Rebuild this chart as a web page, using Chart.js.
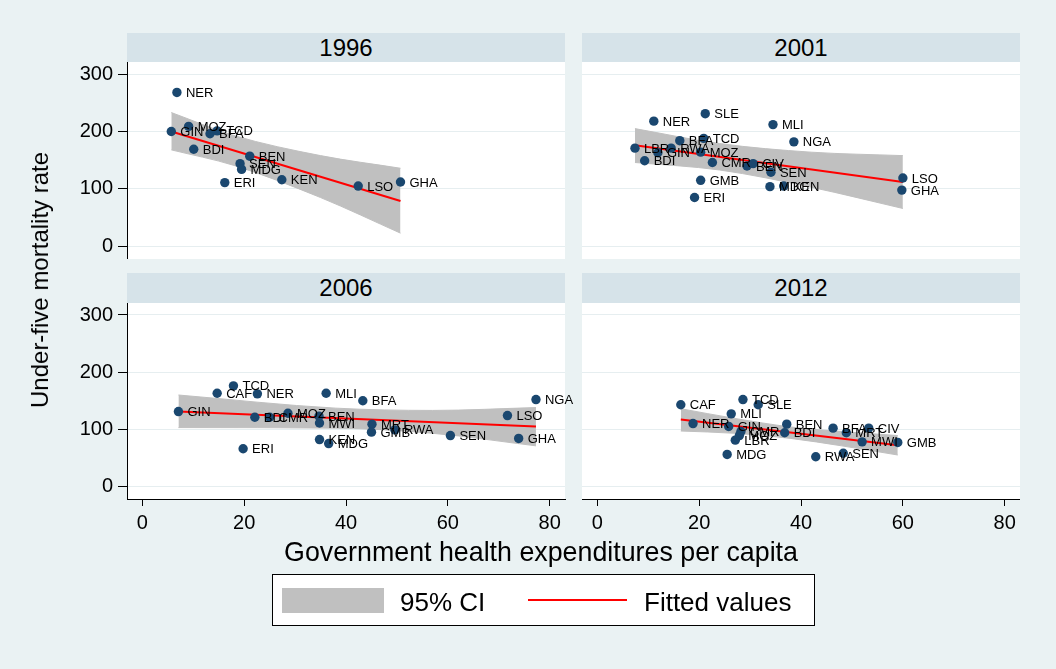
<!DOCTYPE html>
<html>
<head>
<meta charset="utf-8">
<script src="https://cdn.jsdelivr.net/npm/chart.js@4"></script>
<style>
  body { margin: 0; background: #eaf2f3; }
  #wrap { position: relative; width: 1056px; height: 669px; background: #eaf2f3; overflow: hidden;
          font-family: "Liberation Sans", Arial, sans-serif; color: #000; }
  canvas { position: absolute; }
  .strip { position: absolute; background: #d6e3e9; text-align: center; font-size: 24px; }
  .txt { position: absolute; white-space: nowrap; }
</style>
</head>
<body>
<div id="wrap">
  <div class="strip" style="left:127px;top:33px;width:438px;height:29px;line-height:29px">1996</div>
  <div class="strip" style="left:582px;top:33px;width:438px;height:29px;line-height:29px">2001</div>
  <div class="strip" style="left:127px;top:273px;width:438px;height:30px;line-height:30px">2006</div>
  <div class="strip" style="left:582px;top:273px;width:438px;height:30px;line-height:30px">2012</div>

  <canvas id="p1996" width="580" height="197" style="left:0;top:62px"></canvas>
  <canvas id="p2001" width="438" height="197" style="left:582px;top:62px"></canvas>
  <canvas id="p2006" width="580" height="236" style="left:0;top:303px"></canvas>
  <canvas id="p2012" width="438" height="236" style="left:582px;top:303px"></canvas>

  <div class="txt" style="left:40px;top:280px;font-size:24px;line-height:24px;transform:translate(-50%,-50%) rotate(-90deg)">Under-five mortality rate</div>
  <div class="txt" style="left:541px;top:538px;font-size:28px;line-height:28px;transform:translateX(-50%) scaleX(0.957)">Government health expenditures per capita</div>

  <div style="position:absolute;left:272px;top:574px;width:541px;height:50px;background:#fff;border:1px solid #000"></div>
  <div style="position:absolute;left:282px;top:588px;width:102px;height:25px;background:#c0c0c0"></div>
  <div class="txt" style="left:400px;top:589px;font-size:26px;line-height:26px">95% CI</div>
  <div style="position:absolute;left:528px;top:599px;width:99px;height:2px;background:#ff0000"></div>
  <div class="txt" style="left:644px;top:589px;font-size:26px;line-height:26px">Fitted values</div>
</div>

<script>
// axis ticks
const yTicks = [0, 100, 200, 300];
const xTicks = [0, 20, 40, 60, 80];

// 1996
const iso1996 = ['NER','MOZ','GIN','BFA','TCD','BDI','BEN','SEN','MDG','ERI','KEN','LSO','GHA'];
const exp1996 = [6.8, 9.1, 5.7, 13.3, 14.7, 10.1, 21.1, 19.2, 19.5, 16.2, 27.4, 42.4, 50.7];
const u5m1996 = [268, 209, 200, 196, 201, 169, 157, 144, 134, 111, 116, 105, 112];
const fitX1996 = [5.7, 50.7];
const fitY1996 = [200, 79];
const ciX1996  = [5.7, 18, 35, 50.7];
const ciHi1996 = [233, 193, 158, 136];
const ciLo1996 = [168, 141, 85, 23];

// 2001
const iso2001 = ['NER','SLE','MLI','NGA','BFA','TCD','LBR','GIN','RWA','MOZ','BDI','CMR','BEN','CIV','SEN','MDG','KEN','GMB','ERI','LSO','GHA'];
const exp2001 = [11.1, 21.2, 34.5, 38.6, 16.2, 20.9, 7.4, 11.9, 14.5, 20.3, 9.3, 22.6, 29.4, 30.6, 34.1, 33.9, 36.6, 20.3, 19.1, 60.0, 59.8];
const u5m2001 = [218, 231, 212, 182, 184, 188, 171, 163, 171, 164, 149, 146, 140, 144, 129, 104, 105, 115, 85, 119, 98];
const fitX2001 = [7.4, 60.0];
const fitY2001 = [176, 112];
const ciX2001  = [7.4, 24, 42, 60.0];
const ciHi2001 = [205, 179, 164, 158];
const ciLo2001 = [146, 133, 103, 66];

// 2006
const iso2006 = ['TCD','CAF','NER','MLI','BFA','GIN','MOZ','BDI','CMR','BEN','MWI','MRT','GMB','RWA','KEN','MDG','ERI','NGA','LSO','SEN','GHA'];
const exp2006 = [17.9, 14.7, 22.6, 36.1, 43.3, 7.1, 28.6, 22.1, 25.0, 34.7, 34.8, 45.1, 45.0, 49.6, 34.8, 36.6, 19.8, 77.3, 71.7, 60.5, 73.9];
const u5m2006 = [176, 163, 162, 163, 150, 131, 128, 121, 121, 123, 111, 109, 95, 99, 82, 75, 66, 152, 124, 89, 84];
const fitX2006 = [7.1, 77.3];
const fitY2006 = [131, 105];
const ciX2006  = [7.1, 38, 57, 77.3];
const ciHi2006 = [160, 137, 133, 138];
const ciLo2006 = [103, 102, 93, 71];

// 2012
const iso2012 = ['CAF','TCD','SLE','MLI','NER','GIN','CMR','MOZ','LBR','BEN','BDI','BFA','MRT','CIV','MWI','GMB','MDG','RWA','SEN'];
const exp2012 = [16.4, 28.6, 31.6, 26.3, 18.8, 25.8, 28.2, 27.9, 27.1, 37.2, 36.8, 46.3, 48.9, 53.3, 52.0, 59.0, 25.5, 42.9, 48.3];
const u5m2012 = [143, 152, 143, 127, 110, 105, 96, 89, 81, 109, 94, 102, 94, 102, 78, 77, 56, 52, 58];
const fitX2012 = [16.4, 59.0];
const fitY2012 = [117, 72];
const ciX2012  = [16.4, 27, 38, 48, 59.0];
const ciHi2012 = [136, 119, 104, 96, 89];
const ciLo2012 = [97, 93, 84, 71, 55];

const FONT = '"Liberation Sans", Arial, sans-serif';
const toXY = (xs, ys) => xs.map((x, i) => ({ x: x, y: ys[i] }));

// white plot region
const plotBg = {
  id: 'plotBg',
  beforeDraw(chart) {
    const a = chart.chartArea, ctx = chart.ctx;
    ctx.save();
    ctx.fillStyle = '#fff';
    ctx.fillRect(a.left, a.top, a.right - a.left, a.bottom - a.top);
    ctx.restore();
  }
};

// country codes next to the markers
const pointLabels = {
  id: 'pointLabels',
  afterDatasetsDraw(chart) {
    const ctx = chart.ctx;
    const codes = chart.data.datasets[0].codes;
    ctx.save();
    ctx.font = '13px ' + FONT;
    ctx.fillStyle = '#000';
    ctx.textBaseline = 'middle';
    chart.getDatasetMeta(0).data.forEach((p, i) => ctx.fillText(codes[i], p.x + 9, p.y + 1));
    ctx.restore();
  }
};

function panel(id, codes, xs, ys, fx, fy, cx, chi, clo, showY, showX) {
  new Chart(document.getElementById(id), {
    type: 'scatter',
    data: {
      datasets: [
        { data: toXY(xs, ys), codes: codes, order: 0, clip: false,
          pointRadius: 4.7, pointBorderWidth: 0,
          pointBackgroundColor: '#1a476f', pointBorderColor: '#1a476f' },
        { data: toXY(fx, fy), order: 1, showLine: true, borderColor: '#ff0000',
          borderWidth: 2, pointRadius: 0 },
        { data: toXY(cx, chi), order: 3, showLine: true, borderColor: '#c0c0c0',
          borderWidth: 1, pointRadius: 0, cubicInterpolationMode: 'monotone', fill: false },
        { data: toXY(cx, clo), order: 2, showLine: true, borderColor: '#c0c0c0',
          borderWidth: 1, pointRadius: 0, cubicInterpolationMode: 'monotone',
          fill: '-1', backgroundColor: '#c0c0c0' }
      ]
    },
    options: {
      responsive: false,
      animation: false,
      events: [],
      layout: { autoPadding: false, padding: { left: 0, right: showY ? 15 : 0, top: 0, bottom: 0 } },
      plugins: { legend: { display: false }, tooltip: { enabled: false } },
      scales: {
        x: {
          type: 'linear', min: -3, max: 83, display: showX,
          afterBuildTicks: s => { s.ticks = xTicks.map(v => ({ value: v })); },
          afterFit: s => { s.height = showX ? 40 : 0; s.paddingLeft = 0; s.paddingRight = 0; },
          grid: { drawOnChartArea: false, tickLength: 7, tickColor: '#000' },
          border: { color: '#000', width: 1 },
          ticks: { color: '#000', font: { family: FONT, size: 20 }, padding: 5,
                   maxRotation: 0, autoSkip: false }
        },
        y: {
          type: 'linear', min: -22, max: 321,
          afterBuildTicks: s => { s.ticks = yTicks.map(v => ({ value: v })); },
          afterFit: s => { s.width = showY ? 127 : 0; s.paddingTop = 0; s.paddingBottom = 0; },
          grid: { color: '#e6eef0', lineWidth: 1, tickColor: '#000',
                  tickLength: 9, drawTicks: showY },
          border: { display: showY, color: '#000', width: 1 },
          ticks: { display: showY, color: '#000', font: { family: FONT, size: 20 }, padding: 5 }
        }
      }
    },
    plugins: [plotBg, pointLabels]
  });
}

panel('p1996', iso1996, exp1996, u5m1996, fitX1996, fitY1996, ciX1996, ciHi1996, ciLo1996, true, false);
panel('p2001', iso2001, exp2001, u5m2001, fitX2001, fitY2001, ciX2001, ciHi2001, ciLo2001, false, false);
panel('p2006', iso2006, exp2006, u5m2006, fitX2006, fitY2006, ciX2006, ciHi2006, ciLo2006, true, true);
panel('p2012', iso2012, exp2012, u5m2012, fitX2012, fitY2012, ciX2012, ciHi2012, ciLo2012, false, true);
</script>
</body>
</html>
